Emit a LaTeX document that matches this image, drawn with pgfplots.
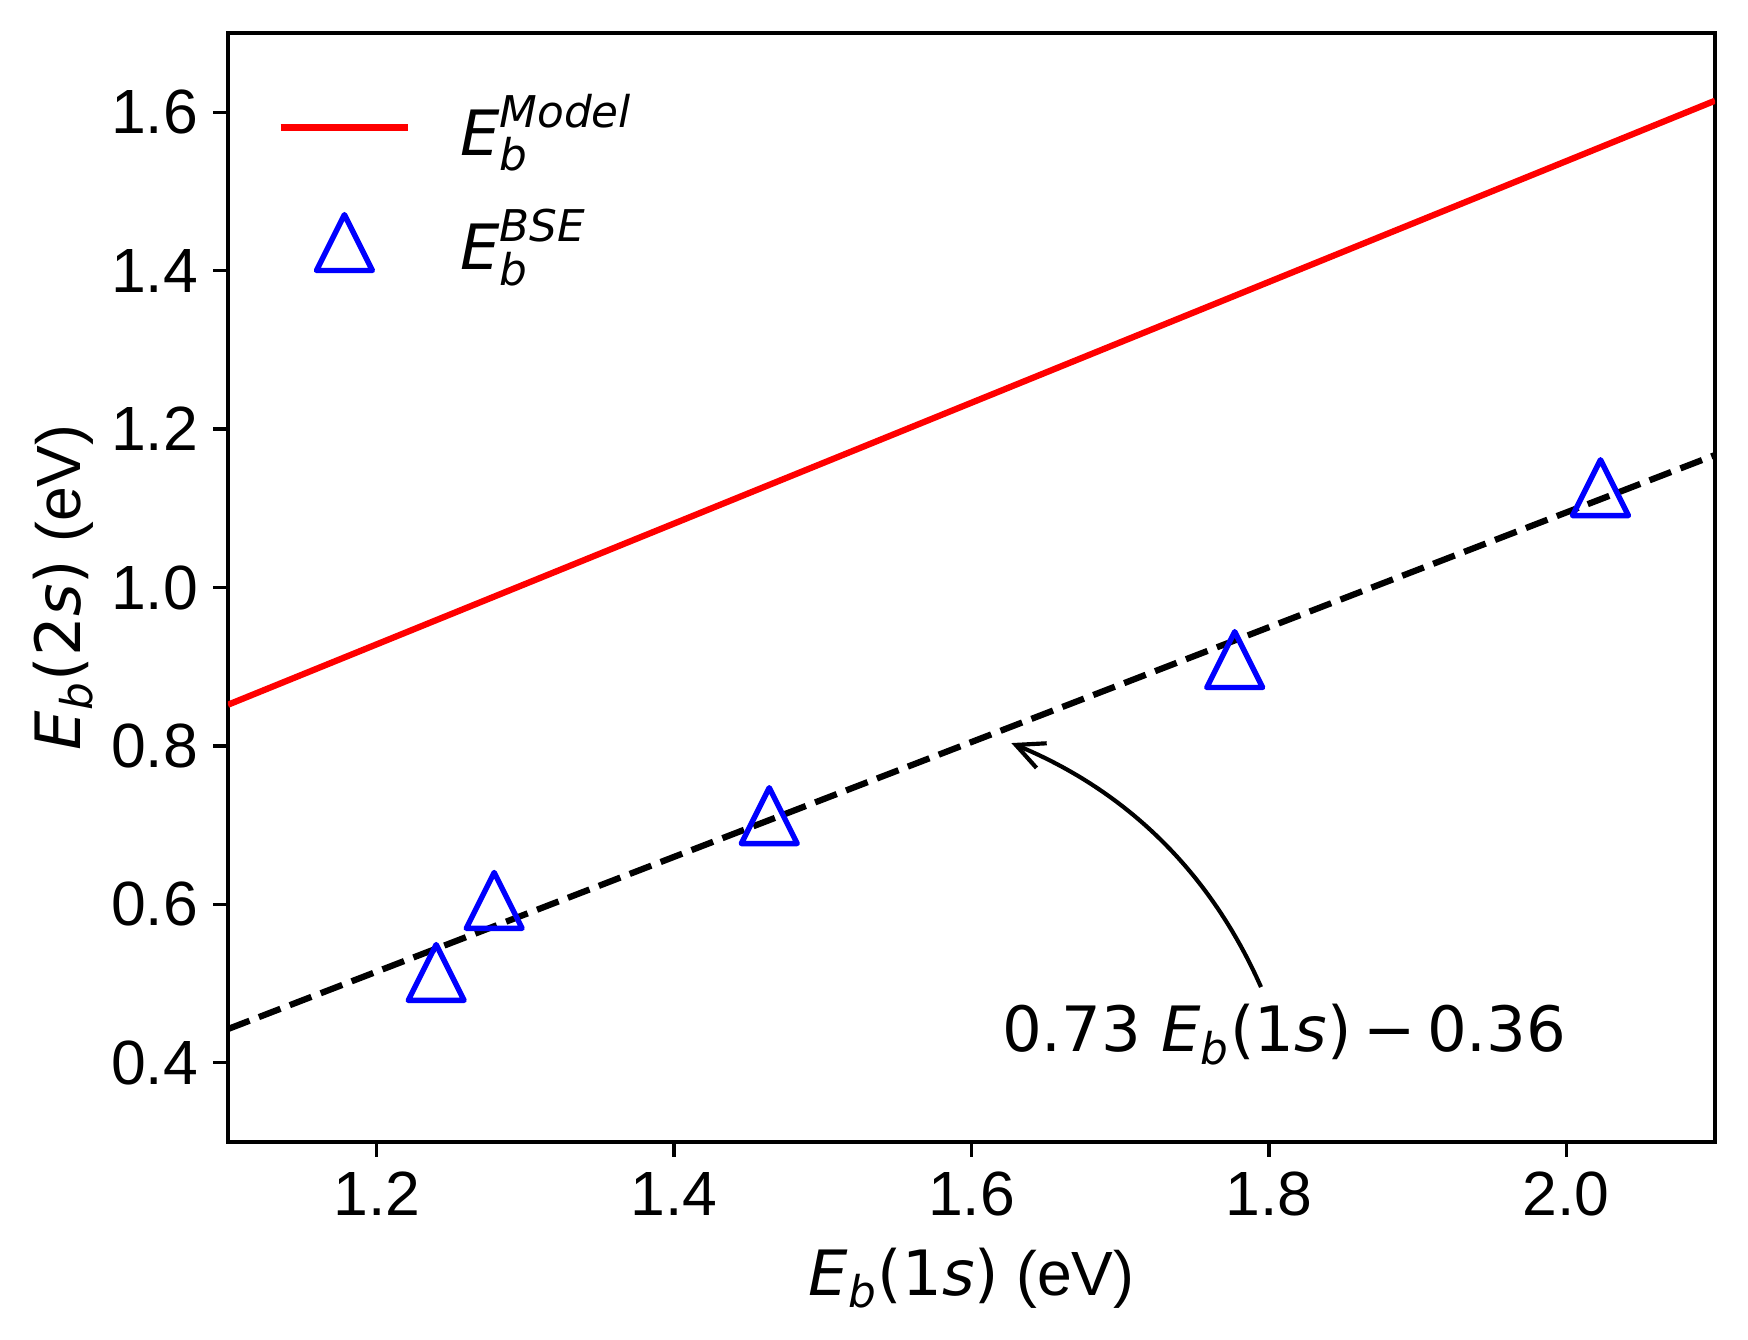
\documentclass[border=0pt]{standalone}
\usepackage{fontspec}
\setmainfont{Liberation Sans}
\newfontfamily\dv{DejaVu Sans}
\usepackage{amsmath}
\usepackage{pgfplots}
\pgfplotsset{compat=1.18}
\usetikzlibrary{arrows.meta}
\newcommand{\dvi}[1]{\text{\dv\itshape #1}}
\newcommand{\dvu}[1]{\text{\dv #1}}
\newcommand{\fs}{\fontsize{15bp}{18bp}\selectfont}
\pgfdeclareplotmark{mtri}{%
  \pgfpathmoveto{\pgfqpoint{0pt}{\pgfplotmarksize}}%
  \pgfpathlineto{\pgfqpoint{-\pgfplotmarksize}{-\pgfplotmarksize}}%
  \pgfpathlineto{\pgfqpoint{\pgfplotmarksize}{-\pgfplotmarksize}}%
  \pgfpathclose\pgfusepathqstroke}
\pgfplotsset{
  legline/.style={legend image code/.code={\draw[##1] (0bp,0bp) -- (30.6bp,0bp);}},
  legmark/.style={legend image code/.code={\path[draw=none] (0bp,0bp) -- (30.6bp,0bp); \draw[##1] plot coordinates {(15.3bp,0bp)};}},
}
\begin{document}
\begin{tikzpicture}
\begin{axis}[
  at={(0,0)}, anchor=south west,
  scale only axis, width=356.88bp, height=266.16bp,
  xmin=1.1, xmax=2.1, ymin=0.3, ymax=1.7,
  xtick={1.2,1.4,1.6,1.8,2.0},
  ytick={0.4,0.6,0.8,1.0,1.2,1.4,1.6},
  /pgf/number format/fixed,
  /pgf/number format/fixed zerofill,
  /pgf/number format/precision=1,
  /pgf/number format/assume math mode=true,
  tick align=outside, tick pos=left,
  major tick length=3.5bp,
  every tick/.style={black, line width=0.8bp},
  axis line style={line width=0.8bp},
  ticklabel style={font=\fs, inner sep=0pt},
  xticklabel style={yshift=-3.5bp},
  yticklabel style={xshift=-3.5bp},
  xlabel={$\dvi{E}_{\dvi{b}}\dvu{(1}\dvi{s}\dvu{)}$ (eV)},
  xlabel style={at={(axis description cs:0.5,-0.138)}, anchor=base, font=\fs, inner sep=0pt},
  ylabel={$\dvi{E}_{\dvi{b}}\dvu{(2}\dvi{s}\dvu{)}$ (eV)},
  ylabel style={at={(axis description cs:-0.0995,0.5)}, anchor=base, font=\fs, inner sep=0pt},
  legend style={draw=none, fill=none, at={(axis description cs:0,1)}, anchor=north west,
    xshift=11.7bp, yshift=-14.4bp, inner sep=0pt, row sep=11.5bp, column sep=11.7bp,
    font=\fs, nodes={inner sep=0pt}},
  legend cell align=left,
]
\addplot[red, line width=1.5bp, legline]
  coordinates {(1.1,0.852) (2.1,1.6145)};
\addlegendentry{$\dvi{E}_{\dvi{b}}^{\dvi{Model}}$}
\addplot[only marks, mark=mtri, mark size=6.7bp, blue, line width=1.3bp, line join=round, legmark]
  coordinates {(1.240,0.514) (1.279,0.605) (1.464,0.712) (1.777,0.909) (2.023,1.126)};
\addlegendentry{$\dvi{E}_{\dvi{b}}^{\dvi{BSE}}$}
\addplot[black, line width=1.5bp, dash pattern=on 5.55bp off 2.4bp, forget plot]
  coordinates {(1.1,0.4426) (2.1,1.1672)};
\draw[line width=1bp, -{Straight Barb[length=6.7bp, width=6.4bp]}]
  (axis cs:1.7947,0.4956) .. controls (axis cs:1.7606,0.6403) and (axis cs:1.7047,0.7430) .. (axis cs:1.6268,0.8036);
\node[anchor=base west, inner sep=0pt, font=\dv\fs] at (axis cs:1.620,0.4139)
  {0.73 $\dvi{E}_{\dvi{b}}$(1\textit{s})\hspace{2.8bp}−\hspace{2.8bp}0.36};
\end{axis}
\pgfresetboundingbox
\useasboundingbox (-54.72bp,-47.28bp) rectangle (364.8bp,274.08bp);
\end{tikzpicture}
\end{document}
